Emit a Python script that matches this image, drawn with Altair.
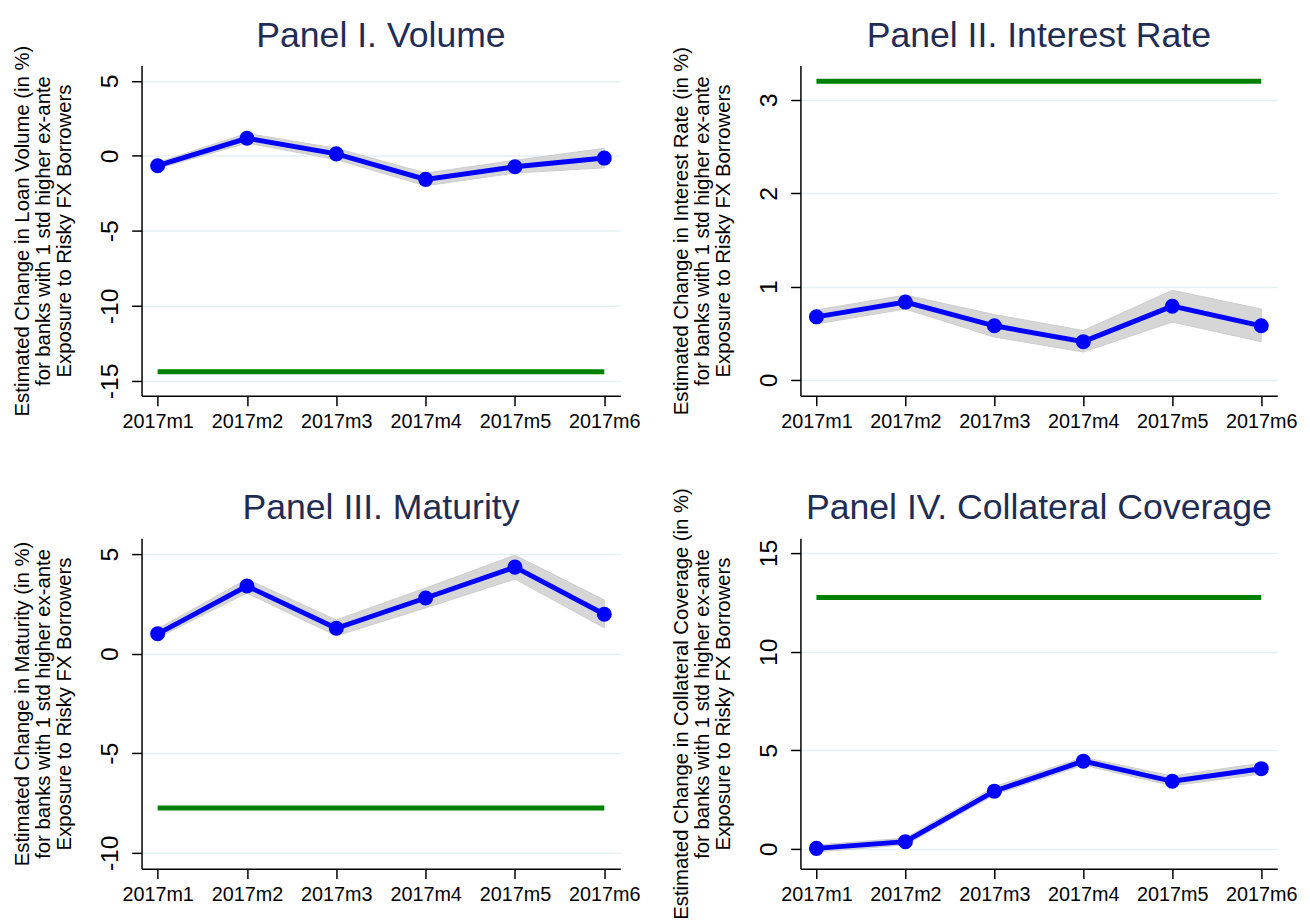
import json
import altair as alt
import pandas as pd

FONT = "Liberation Sans, Arial"

# ---- data ----
months = [1, 2, 3, 4, 5, 6]
month_labels = ["2017m1", "2017m2", "2017m3", "2017m4", "2017m5", "2017m6"]

vol_est = [-0.66, 1.17, 0.13, -1.57, -0.73, -0.15]
vol_lo = [-0.85, 0.85, -0.25, -2.0, -1.15, -0.8]
vol_hi = [-0.45, 1.5, 0.5, -1.15, -0.3, 0.5]
vol_green = -14.4

rate_est = [0.676, 0.834, 0.58, 0.41, 0.79, 0.58]
rate_lo = [0.60, 0.76, 0.46, 0.30, 0.62, 0.41]
rate_hi = [0.75, 0.91, 0.70, 0.53, 0.96, 0.76]
rate_green = 3.2

mat_est = [1.0, 3.4, 1.28, 2.8, 4.35, 1.98]
mat_lo = [0.8, 3.05, 0.9, 2.3, 3.75, 1.3]
mat_hi = [1.25, 3.75, 1.7, 3.3, 4.95, 2.7]
mat_green = -7.75

col_est = [0.03, 0.37, 2.93, 4.45, 3.43, 4.07]
col_lo = [-0.15, 0.2, 2.75, 4.25, 3.2, 3.8]
col_hi = [0.2, 0.55, 3.15, 4.65, 3.7, 4.35]
col_green = 12.75

titles = ["Panel I. Volume", "Panel II. Interest Rate",
          "Panel III. Maturity", "Panel IV. Collateral Coverage"]
measures = ["Loan Volume", "Interest Rate", "Maturity", "Collateral Coverage"]
ydomains = [[-16.0, 6.03], [-0.17, 3.37], [-10.8, 5.8], [-1.0, 15.75]]
yticks = [[-15, -10, -5, 0, 5], [0, 1, 2, 3], [-10, -5, 0, 5], [0, 5, 10, 15]]

H = 334


def panel(title, measure, est, lo, hi, green, ydom, ticks, width):
    df = pd.DataFrame({"m": months, "est": est, "lo": lo, "hi": hi})
    gdf = pd.DataFrame({"m": [months[0]], "m2": [months[-1]], "g": [green]})
    tdf = pd.DataFrame({"t": [title]})
    ytitle = [f"Estimated Change in {measure} (in  %)",
              "for banks with 1 std higher ex-ante",
              "Exposure to Risky FX Borrowers"]
    xaxis = alt.Axis(values=months,
                     labelExpr=json.dumps(month_labels) + "[datum.value - 1]",
                     labelAngle=0, labelFontSize=20, labelFont=FONT,
                     labelColor="black", labelPadding=6, labelFlush=False,
                     tickSize=10, tickColor="black", tickWidth=1.5,
                     domainColor="black", domainWidth=1.5, grid=False,
                     title=None, labelOverlap=False)
    yaxis = alt.Axis(values=ticks, labelExpr="toString(datum.value)",
                     labelAngle=270, labelAlign="center",
                     labelBaseline="alphabetic", labelPadding=14,
                     labelFontSize=25, labelFont=FONT, labelColor="black",
                     tickSize=10, tickColor="black", tickWidth=1.5,
                     domainColor="black", domainWidth=1.5,
                     grid=True, gridColor="#e6eff1", gridWidth=1.5,
                     title=ytitle, titleFontSize=20.5, titleFont=FONT,
                     titleFontWeight="normal", titleColor="black",
                     titleAngle=270, titleAlign="center",
                     titleBaseline="alphabetic", titleLineHeight=21,
                     titleX=-114, titleY=H / 2, labelOverlap=False)
    xs = alt.Scale(domain=[0.82, 6.18], nice=False, zero=False)
    ys = alt.Scale(domain=ydom, nice=False, zero=False)

    band = alt.Chart(df).mark_area(color="#d6d6d6", opacity=1,
                                   stroke="#cccccc", strokeWidth=1).encode(
        x=alt.X("m:Q", scale=xs, axis=xaxis),
        y=alt.Y("lo:Q", scale=ys, axis=yaxis),
        y2="hi:Q",
    )
    gline = alt.Chart(gdf).mark_rule(color="#008000", strokeWidth=5).encode(
        x=alt.X("m:Q", scale=xs, axis=xaxis),
        x2="m2:Q",
        y=alt.Y("g:Q", scale=ys, axis=yaxis),
    )
    line = alt.Chart(df).mark_line(color="#0000ff", strokeWidth=5).encode(
        x=alt.X("m:Q", scale=xs, axis=xaxis),
        y=alt.Y("est:Q", scale=ys, axis=yaxis),
    )
    pts = alt.Chart(df).mark_circle(color="#0000ff", opacity=1, size=230).encode(
        x=alt.X("m:Q", scale=xs, axis=xaxis),
        y=alt.Y("est:Q", scale=ys, axis=yaxis),
    )
    ttl = alt.Chart(tdf).mark_text(fontSize=36, font=FONT, color="#1f2d55",
                                   align="center", baseline="alphabetic").encode(
        x=alt.value(width / 2), y=alt.value(-19), text="t:N"
    )
    return alt.layer(band, gline, line, pts, ttl).properties(width=width, height=H)


p1 = panel(titles[0], measures[0], vol_est, vol_lo, vol_hi, vol_green,
           ydomains[0], yticks[0], 484)
p2 = panel(titles[1], measures[1], rate_est, rate_lo, rate_hi, rate_green,
           ydomains[1], yticks[1], 482)
p3 = panel(titles[2], measures[2], mat_est, mat_lo, mat_hi, mat_green,
           ydomains[2], yticks[2], 484)
p4 = panel(titles[3], measures[3], col_est, col_lo, col_hi, col_green,
           ydomains[3], yticks[3], 482)

chart = alt.concat(p1, p2, p3, p4, columns=2,
                   spacing={"row": 144, "column": 182},
                   bounds="flush").configure_view(
    stroke=None
).properties(background="white")

chart.save("out.html", embed_options={"renderer": "svg", "actions": False})
